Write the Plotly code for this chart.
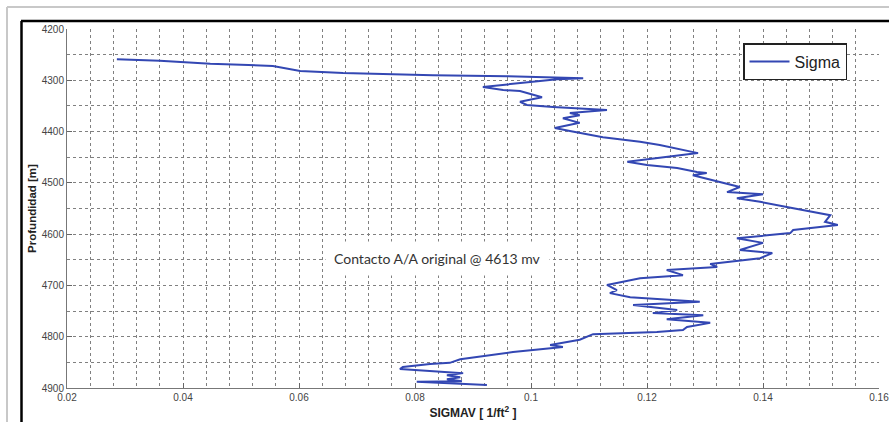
import plotly.graph_objects as go

# Sigma log: SIGMAV [1/ft^2] versus depth [m]
sigmav = [
    0.0286, 0.0360, 0.0447, 0.0521, 0.0555, 0.0602, 0.0676, 0.0831, 0.0959, 0.1090,
    0.1045, 0.1003, 0.0917, 0.0952, 0.0981, 0.1019, 0.0981, 0.0993, 0.1038, 0.1131,
    0.1067, 0.1084, 0.1055, 0.1084, 0.1041, 0.1067, 0.1124, 0.1188, 0.1222, 0.1288,
    0.1166, 0.1200, 0.1252, 0.1286, 0.1303, 0.1279, 0.1309, 0.1360, 0.1338, 0.1400,
    0.1355, 0.1395, 0.1441, 0.1516, 0.1507, 0.1529, 0.1452, 0.1447, 0.1355, 0.1400,
    0.1360, 0.1416, 0.1395, 0.1338, 0.1309, 0.1321, 0.1234, 0.1262, 0.1188, 0.1131,
    0.1148, 0.1136, 0.1171, 0.1291, 0.1176, 0.1252, 0.1210, 0.1297, 0.1234, 0.1309,
    0.1269, 0.1262, 0.1217, 0.1107, 0.1084, 0.1033, 0.1055, 0.1038, 0.0969, 0.0878,
    0.0860, 0.0826, 0.0779, 0.0774, 0.0838, 0.0883, 0.0855, 0.0878, 0.0855, 0.0881,
    0.0803, 0.0855, 0.0924,
]
depth = [
    4259, 4262, 4268, 4270, 4272, 4282, 4286, 4290, 4292, 4296,
    4298, 4303, 4313, 4319, 4321, 4333, 4342, 4348, 4352, 4358,
    4364, 4368, 4374, 4383, 4393, 4399, 4411, 4420, 4426, 4442,
    4459, 4465, 4471, 4479, 4481, 4485, 4494, 4508, 4518, 4522,
    4530, 4537, 4547, 4563, 4576, 4582, 4592, 4598, 4608, 4617,
    4631, 4637, 4647, 4654, 4658, 4664, 4670, 4680, 4686, 4699,
    4709, 4715, 4723, 4732, 4738, 4748, 4754, 4758, 4766, 4773,
    4781, 4787, 4791, 4795, 4806, 4816, 4820, 4822, 4830, 4844,
    4851, 4853, 4859, 4863, 4867, 4871, 4875, 4879, 4883, 4887,
    4888, 4890, 4894,
]

x_ticks = [0.02, 0.04, 0.06, 0.08, 0.1, 0.12, 0.14, 0.16]
x_tick_text = ["0.02", "0.04", "0.06", "0.08", "0.1", "0.12", "0.14", "0.16"]
y_ticks = [4200, 4300, 4400, 4500, 4600, 4700, 4800, 4900]

contact_label = "Contacto A/A original @ 4613 mv"
contact_pos = (0.0838, 4647)

W, H = 889, 422
ML, MR, MT, MB = 67, 10, 29, 34
PW = W - ML - MR
PH = H - MT - MB


def px(xp):
    return (xp - ML) / PW


def py(yp):
    return (H - MB - yp) / PH


fig = go.Figure()
fig.add_trace(go.Scatter(
    x=sigmav, y=depth, mode="lines", name="Sigma",
    line=dict(color="#3347b3", width=2),
))

grid = dict(showgrid=True, gridcolor="#808080", gridwidth=1, griddash="dot")

fig.update_xaxes(
    range=[0.02, 0.16], tickvals=x_ticks, ticktext=x_tick_text,
    ticks="inside", ticklen=5, tickcolor="#666",
    showline=True, linecolor="#777", linewidth=1, mirror=False,
    tickfont=dict(family="Liberation Sans", size=10, color="#444"),
    ticklabeloverflow="allow", automargin=False,
    minor=dict(dtick=0.004, showgrid=True, gridcolor="#808080", griddash="dot", gridwidth=1),
    title=dict(text="<b>SIGMAV [ 1/ft<sup>2</sup> ]</b>", standoff=6,
               font=dict(family="Liberation Sans", size=12, color="#222")),
    zeroline=False, **grid,
)
fig.update_yaxes(
    range=[4900, 4200], tickvals=y_ticks,
    ticks="inside", ticklen=5, tickcolor="#666",
    showline=True, linecolor="#777", linewidth=1, mirror=False,
    tickfont=dict(family="Liberation Sans", size=10, color="#444"),
    automargin=False,
    minor=dict(dtick=50, showgrid=True, gridcolor="#808080", griddash="dot", gridwidth=1),
    title=dict(text="<b>Profundidad [m]</b>", standoff=2,
               font=dict(family="Liberation Sans", size=11.5, color="#222")),
    zeroline=False, **grid,
)

fig.add_annotation(
    x=contact_pos[0], y=contact_pos[1], text=contact_label, showarrow=False,
    font=dict(family="Lato", size=14, color="#333"),
    bgcolor="white", borderpad=8,
)

# outer page frames
fig.add_shape(type="line", xref="paper", yref="paper",
              x0=px(7), x1=px(W + 5), y0=py(7), y1=py(7),
              line=dict(color="#c8c8c8", width=2))
fig.add_shape(type="line", xref="paper", yref="paper",
              x0=px(7), x1=px(7), y0=py(7), y1=py(H + 5),
              line=dict(color="#c8c8c8", width=2))
fig.add_shape(type="line", xref="paper", yref="paper",
              x0=px(21), x1=px(W + 5), y0=py(21), y1=py(21),
              line=dict(color="black", width=2.5))
fig.add_shape(type="line", xref="paper", yref="paper",
              x0=px(21.5), x1=px(21.5), y0=py(21), y1=py(H + 5),
              line=dict(color="black", width=2.5))

fig.update_layout(
    width=W, height=H,
    margin=dict(l=ML, r=MR, t=MT, b=MB, autoexpand=False),
    paper_bgcolor="white", plot_bgcolor="white",
    showlegend=True,
    legend=dict(
        x=px(743), y=py(43), xanchor="left", yanchor="top",
        bgcolor="white", bordercolor="#222", borderwidth=1.5,
        font=dict(family="Liberation Sans", size=16, color="#222"),
        itemwidth=40, tracegroupgap=0,
    ),
)

fig.write_html("out.html")
